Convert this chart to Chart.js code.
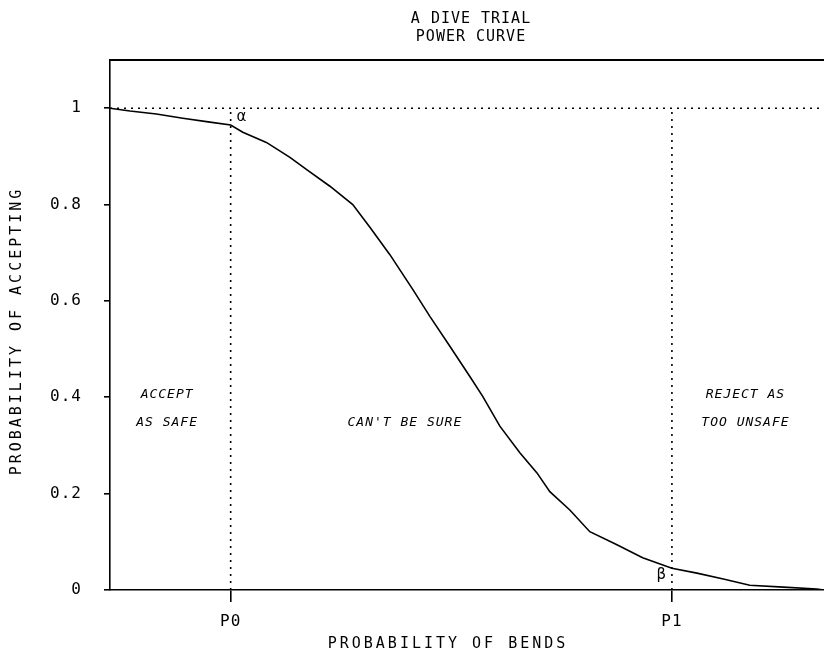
<!DOCTYPE html>
<html lang="en">
  <head>
    <meta charset="UTF-8" />
    <title>A Dive Trial - Power Curve</title>
    <style>
      html, body {
        margin: 0;
        padding: 0;
        background: #fff;
      }
      #wrap {
        width: 824px;
        height: 655px;
      }
    </style>
    <script src="https://cdn.jsdelivr.net/npm/chart.js"></script>
  </head>
  <body>
    <div id="wrap"><canvas id="powerChart" width="824" height="655"></canvas></div>

    <script>
      // probability of bends (arbitrary units, 0 = left axis, 100 = right edge)
      const bendsX = [0, 2.8, 6.5, 10.2, 14.0, 16.9, 18.6, 21.9, 25.2, 27.5, 30.8, 34.0, 36.4, 39.2,
        42.4, 44.8, 47.6, 50.4, 52.2, 54.6, 57.4, 59.8, 61.6, 64.4, 67.2, 71.0, 74.6, 78.7,
        82.2, 85.9, 89.6, 94.3, 99.0, 100];
      // probability of accepting
      const acceptP = [1.0, 0.994, 0.988, 0.979, 0.971, 0.965, 0.950, 0.929, 0.898, 0.873, 0.838, 0.800, 0.753, 0.696,
        0.624, 0.568, 0.506, 0.443, 0.402, 0.340, 0.285, 0.243, 0.204, 0.166, 0.121, 0.094, 0.067, 0.045,
        0.035, 0.023, 0.010, 0.006, 0.002, 0.0];

      const P0 = 16.9;
      const P1 = 78.7;
      const xTickValues = [P0, P1];
      const xTickLabels = ['P0', 'P1'];
      const yTicks = [0, 0.2, 0.4, 0.6, 0.8, 1];
      const certainLevel = 1;

      const MONO = '"DejaVu Sans Mono", "Liberation Mono", monospace';

      // dotted guide lines
      const levelLine = [{ x: 0, y: certainLevel }, { x: 100, y: certainLevel }];
      const p0Line = [{ x: P0, y: 0 }, { x: P0, y: certainLevel }];
      const p1Line = [{ x: P1, y: 0 }, { x: P1, y: certainLevel }];

      const dotted = {
        borderColor: '#000',
        borderWidth: 1.6,
        borderDash: [2, 5],
        pointRadius: 0,
        fill: false
      };

      // text on the chart: title, axis titles, region labels, alpha/beta
      const textPlugin = {
        id: 'texts',
        beforeDraw(chart) {
          chart.ctx.letterSpacing = '1px';
        },
        afterDraw(chart) {
          const { ctx, chartArea, scales } = chart;
          const xs = scales.x, ys = scales.y;
          ctx.save();
          ctx.fillStyle = '#000';
          ctx.textAlign = 'center';
          ctx.textBaseline = 'middle';

          // top border of the frame
          ctx.strokeStyle = '#000';
          ctx.lineWidth = 1.8;
          ctx.beginPath();
          ctx.moveTo(chartArea.left, chartArea.top);
          ctx.lineTo(chartArea.right, chartArea.top);
          ctx.stroke();

          // title
          ctx.letterSpacing = '1px';
          ctx.font = '15px ' + MONO;
          const cx = (chartArea.left + chartArea.right) / 2 + 4;
          ctx.fillText('A DIVE TRIAL', cx, 19);
          ctx.fillText('POWER CURVE', cx, 37);

          // axis titles
          ctx.letterSpacing = '3px';
          ctx.font = '15px ' + MONO;
          ctx.fillText('PROBABILITY OF BENDS', 448, 644);
          ctx.save();
          ctx.translate(17, 331);
          ctx.rotate(-Math.PI / 2);
          ctx.fillText('PROBABILITY OF ACCEPTING', 0, 0);
          ctx.restore();

          // region labels
          ctx.letterSpacing = '1px';
          ctx.font = 'italic 13px ' + MONO;
          ctx.fillText('ACCEPT', xs.getPixelForValue(8.0), ys.getPixelForValue(0.405));
          ctx.fillText('AS SAFE', xs.getPixelForValue(8.0), ys.getPixelForValue(0.347));
          ctx.fillText("CAN'T BE SURE", xs.getPixelForValue(41.3), ys.getPixelForValue(0.347));
          ctx.fillText('REJECT AS', xs.getPixelForValue(89.0), ys.getPixelForValue(0.405));
          ctx.fillText('TOO UNSAFE', xs.getPixelForValue(89.0), ys.getPixelForValue(0.347));

          // alpha and beta
          ctx.letterSpacing = '0px';
          ctx.font = '15px "DejaVu Sans", sans-serif';
          ctx.fillText('\u03b1', xs.getPixelForValue(18.4), ys.getPixelForValue(0.981));
          ctx.fillText('\u03b2', xs.getPixelForValue(77.2), ys.getPixelForValue(0.031));
          ctx.restore();
        }
      };

      new Chart(document.getElementById('powerChart'), {
        type: 'line',
        data: {
          datasets: [
            Object.assign({ data: levelLine }, dotted),
            Object.assign({ data: p0Line }, dotted),
            Object.assign({ data: p1Line }, dotted),
            {
              data: bendsX.map((x, i) => ({ x: x, y: acceptP[i] })),
              borderColor: '#000',
              borderWidth: 1.6,
              pointRadius: 0,
              tension: 0,
              fill: false
            }
          ]
        },
        options: {
          responsive: false,
          animation: false,
          events: [],
          layout: { padding: { top: 60, left: 0, right: 0, bottom: 0 } },
          plugins: {
            legend: { display: false },
            tooltip: { enabled: false },
            title: { display: false }
          },
          scales: {
            x: {
              type: 'linear',
              min: 0,
              max: 100,
              afterBuildTicks: (scale) => {
                scale.ticks = xTickValues.map((v) => ({ value: v }));
              },
              afterFit: (scale) => {
                scale.height = 65;
              },
              ticks: {
                autoSkip: false,
                maxRotation: 0,
                padding: 10,
                color: '#000',
                font: { family: MONO, size: 16 },
                callback: (value, index) => xTickLabels[index]
              },
              grid: {
                drawOnChartArea: false,
                drawTicks: true,
                tickLength: 12,
                color: '#000',
                lineWidth: 1.6
              },
              border: { display: true, color: '#000', width: 1.6 }
            },
            y: {
              min: 0,
              max: 1.1,
              afterBuildTicks: (scale) => {
                scale.ticks = yTicks.map((v) => ({ value: v }));
              },
              afterFit: (scale) => {
                scale.width = 110;
              },
              ticks: {
                padding: 22,
                color: '#000',
                font: { family: MONO, size: 16 },
                callback: (value) => String(value)
              },
              grid: {
                drawOnChartArea: false,
                drawTicks: true,
                tickLength: 6,
                color: '#000',
                lineWidth: 1.6
              },
              border: { display: true, color: '#000', width: 1.6 }
            }
          }
        },
        plugins: [textPlugin]
      });
    </script>
  </body>
</html>
